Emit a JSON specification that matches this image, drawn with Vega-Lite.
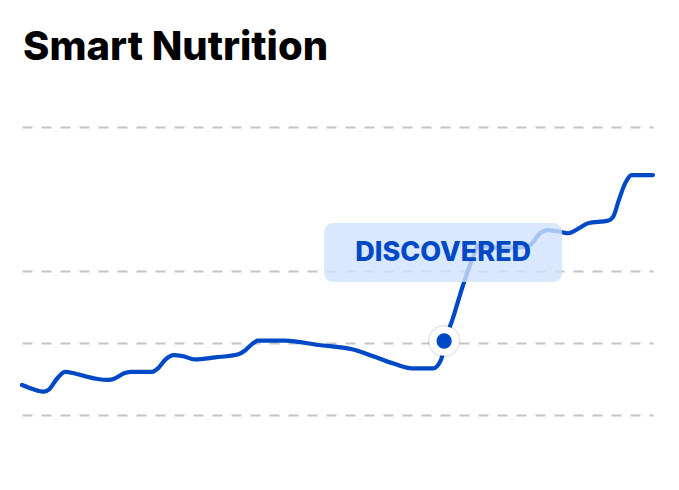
{
  "$schema": "https://vega.github.io/schema/vega-lite/v6.json",
  "description": "Smart Nutrition trend line with discovered marker",
  "autosize": "none",
  "width": 631,
  "height": 288,
  "padding": {"left": 22, "top": 127, "right": 26, "bottom": 75},
  "title": {
    "text": "Smart Nutrition",
    "anchor": "start",
    "frame": "group",
    "font": "Inter",
    "fontSize": 40,
    "fontWeight": 800,
    "color": "#000000",
    "baseline": "alphabetic",
    "offset": 27,
    "dx": 1
  },
  "config": {"view": {"stroke": null}},
  "datasets": {
    "trend": [
      {"t": 0.0, "v": 10.4}, {"t": 1.7, "v": 9.0}, {"t": 3.5, "v": 8.1}, {"t": 4.3, "v": 8.9},
      {"t": 5.5, "v": 12.5}, {"t": 6.8, "v": 15.0}, {"t": 8.4, "v": 14.4}, {"t": 10.3, "v": 13.3},
      {"t": 12.0, "v": 12.5}, {"t": 13.7, "v": 12.2}, {"t": 14.7, "v": 12.7}, {"t": 16.3, "v": 14.6},
      {"t": 17.4, "v": 15.0}, {"t": 20.6, "v": 15.0}, {"t": 21.6, "v": 16.3}, {"t": 22.8, "v": 19.4},
      {"t": 24.0, "v": 20.8}, {"t": 25.4, "v": 20.5}, {"t": 27.4, "v": 19.3}, {"t": 30.6, "v": 20.0},
      {"t": 34.3, "v": 21.1}, {"t": 35.3, "v": 22.3}, {"t": 36.5, "v": 24.7}, {"t": 37.4, "v": 25.8},
      {"t": 41.7, "v": 25.8}, {"t": 47.0, "v": 24.3}, {"t": 52.3, "v": 22.8}, {"t": 55.9, "v": 20.2},
      {"t": 59.1, "v": 17.7}, {"t": 61.8, "v": 16.2}, {"t": 65.2, "v": 16.2}, {"t": 66.4, "v": 19.1},
      {"t": 67.2, "v": 26.7}, {"t": 68.2, "v": 33.0}, {"t": 69.9, "v": 45.1}, {"t": 71.3, "v": 53.8},
      {"t": 72.3, "v": 58.7}, {"t": 75.8, "v": 58.0}, {"t": 79.2, "v": 58.3}, {"t": 80.5, "v": 59.0},
      {"t": 82.1, "v": 63.1}, {"t": 83.2, "v": 64.2}, {"t": 85.3, "v": 63.6}, {"t": 86.6, "v": 63.1},
      {"t": 88.1, "v": 64.6}, {"t": 89.7, "v": 66.6}, {"t": 92.9, "v": 67.5}, {"t": 93.7, "v": 68.9},
      {"t": 94.6, "v": 74.7}, {"t": 95.6, "v": 80.5}, {"t": 96.6, "v": 83.3}, {"t": 100.0, "v": 83.3}
    ],
    "event": [{"t": 66.9, "v": 25.7, "label": "DISCOVERED"}]
  },
  "encoding": {
    "x": {"field": "t", "type": "quantitative", "axis": null, "scale": {"domain": [0, 100], "nice": false, "zero": false}},
    "y": {
      "field": "v",
      "type": "quantitative",
      "scale": {"domain": [0, 100], "nice": false},
      "axis": {
        "values": [0, 25, 50, 100],
        "labels": false,
        "ticks": false,
        "domain": false,
        "title": null,
        "gridDash": [10, 9],
        "gridColor": "#c4c4c4",
        "gridWidth": 1.8
      }
    }
  },
  "layer": [
    {
      "data": {"name": "trend"},
      "mark": {"type": "line", "interpolate": "monotone", "color": "#0049c6", "strokeWidth": 4.2, "strokeCap": "round"}
    },
    {
      "data": {"name": "event"},
      "mark": {
        "type": "rect",
        "fill": "#cfe2fb",
        "opacity": 0.8,
        "cornerRadius": 9,
        "xOffset": -120,
        "x2Offset": 118,
        "yOffset": -118,
        "y2Offset": -59
      },
      "encoding": {"x2": {"field": "t"}, "y2": {"field": "v"}}
    },
    {
      "data": {"name": "event"},
      "mark": {
        "type": "text",
        "font": "Inter",
        "fontSize": 27,
        "fontWeight": 800,
        "letterSpacing": 2.1,
        "color": "#0049c6",
        "align": "center",
        "baseline": "alphabetic",
        "dx": -1,
        "dy": -80
      },
      "encoding": {"text": {"field": "label"}}
    },
    {
      "data": {"name": "event"},
      "mark": {"type": "circle", "size": 1050, "color": "#000000", "opacity": 0.1}
    },
    {
      "data": {"name": "event"},
      "mark": {"type": "circle", "size": 870, "color": "#ffffff", "opacity": 1}
    },
    {
      "data": {"name": "event"},
      "mark": {"type": "circle", "size": 235, "color": "#0049c6", "opacity": 1}
    }
  ]
}
